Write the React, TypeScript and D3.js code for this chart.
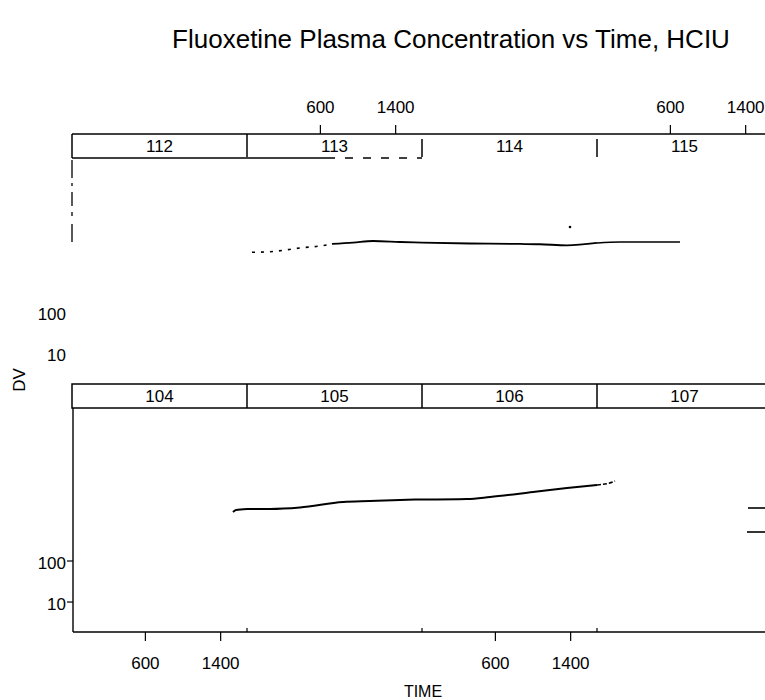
import React from "react";
import * as d3 from "d3";

const title = "Fluoxetine Plasma Concentration vs Time, HCIU";
const xLabel = "TIME";
const yLabel = "DV";
const topPanels = ["112", "113", "114", "115"];
const bottomPanels = ["104", "105", "106", "107"];
const xTicks = [600, 1400];
const yTicks = [10, 100];
const timeDomain = [-180, 1680];
const dvDomain = [1.86, 537000];

// [TIME, DV] per subject panel (bottom row)
const s104: [number, number][] = [[1531, 1570], [1563, 1750], [1680, 1860]];
const s105: [number, number][] = [[-180, 1860], [64, 1860], [383, 2020], [840, 2750], [1127, 2905], [1446, 3080], [1680, 3160]];
const s106: [number, number][] = [[-180, 3160], [298, 3250], [543, 3640], [1000, 4820], [1361, 6030], [1680, 7150]];
const s107: [number, number][] = [[-180, 7150], [-10, 8450], [11, 8930]];
// top row
const s113a: [number, number][] = [[-127, 2705], [64, 2794], [415, 3500], [596, 3846], [723, 4308]];
const s113b: [number, number][] = [[723, 4308], [947, 4635], [1159, 5094], [1446, 4818], [1680, 4635]];
const s114: [number, number][] = [[-180, 4635], [330, 4425], [861, 4308], [1074, 4240], [1361, 4000], [1680, 4560]];
const s115: [number, number][] = [[-180, 4560], [64, 4818], [383, 4818], [702, 4818]];
const point114: [number, number][] = [[1393, 11200]];

const FONT = "'Liberation Sans', Arial, Helvetica, sans-serif";

export default function App() {
  const W = 765, H = 700;
  const left = 72, pw = 175, stripH = 24, ph = 224;
  const topStrip = 134, botStrip = 384;
  const x = d3.scaleLinear().domain(timeDomain).range([0, pw]);
  const yRow = (stripTop: number) =>
    d3.scaleLog().domain(dvDomain).range([stripTop + stripH + ph, stripTop + stripH]);
  const yTop = yRow(topStrip);
  const yBot = yRow(botStrip);
  const px = (i: number) => left + i * pw;

  const path = (data: [number, number][], i: number, y: any) =>
    d3.line<[number, number]>()
      .x((d) => px(i) + x(d[0]))
      .y((d) => y(d[1]))
      .curve(d3.curveMonotoneX)(data) || "";

  const botY = botStrip + stripH + ph; // 632

  return (
    <svg width={W} height={H} style={{ position: "absolute", left: 0, top: 0, background: "#fff" }}
      fontFamily={FONT}>
      <rect x={0} y={0} width={W} height={H} fill="#fff" />
      <text x={451} y={48} textAnchor="middle" fontSize={26}>{title}</text>

      {/* top row strip */}
      <line x1={left} x2={W} y1={topStrip} y2={topStrip} stroke="#000" strokeWidth={1.5} />
      <line x1={left} x2={px(1) + 80} y1={topStrip + stripH} y2={topStrip + stripH} stroke="#000" strokeWidth={1.5} />
      <line x1={px(1) + 80} x2={px(2)} y1={topStrip + stripH} y2={topStrip + stripH} stroke="#000" strokeWidth={1.5} strokeDasharray="8,10" />
      <line x1={left} x2={left} y1={topStrip} y2={topStrip + stripH} stroke="#000" strokeWidth={1.5} />
      {[1, 2, 3].map((i) => (
        <line key={i} x1={px(i)} x2={px(i)} y1={i === 1 ? topStrip : topStrip + 5} y2={topStrip + stripH - 1} stroke="#000" strokeWidth={1.5} />
      ))}
      {topPanels.map((p, i) => (
        <text key={p} x={px(i) + pw / 2} y={topStrip + 18} textAnchor="middle" fontSize={17}>{p}</text>
      ))}
      {/* top axis ticks on panels 113 and 115 */}
      {[1, 3].map((i) =>
        xTicks.map((t) => (
          <g key={i + "-" + t}>
            <line x1={px(i) + x(t)} x2={px(i) + x(t)} y1={topStrip - 9} y2={topStrip} stroke="#000" strokeWidth={1.2} />
            <text x={px(i) + x(t)} y={topStrip - 21} textAnchor="middle" fontSize={17}>{t}</text>
          </g>
        ))
      )}
      {/* top row left axis (faded) */}
      <line x1={left} x2={left} y1={topStrip + stripH + 2} y2={topStrip + stripH + 88} stroke="#000" strokeWidth={1.3} strokeDasharray="18,5,3,6,14,6,4,8" />
      {yTicks.map((t) => (
        <text key={t} x={66} y={yTop(t) + 9} textAnchor="end" fontSize={17}>{t}</text>
      ))}
      {/* top row curves */}
      <path d={path(s113a, 1, yTop)} fill="none" stroke="#000" strokeWidth={1.6} strokeDasharray="3,6" />
      <path d={path(s113b, 1, yTop)} fill="none" stroke="#000" strokeWidth={1.8} />
      <path d={path(s114, 2, yTop)} fill="none" stroke="#000" strokeWidth={1.8} />
      <path d={path(s115, 3, yTop)} fill="none" stroke="#000" strokeWidth={1.6} />
      {point114.map((d, k) => (
        <circle key={k} cx={px(2) + x(d[0])} cy={yTop(d[1])} r={1.3} fill="#000" />
      ))}

      {/* bottom row strip */}
      <rect x={left} y={botStrip} width={W - left + 2} height={stripH} fill="none" stroke="#000" strokeWidth={1.5} />
      {[1, 2, 3].map((i) => (
        <line key={i} x1={px(i)} x2={px(i)} y1={botStrip} y2={botStrip + stripH} stroke="#000" strokeWidth={1.5} />
      ))}
      {bottomPanels.map((p, i) => (
        <text key={p} x={px(i) + pw / 2} y={botStrip + 18} textAnchor="middle" fontSize={17}>{p}</text>
      ))}
      {/* bottom row axes */}
      <line x1={left + 1} x2={left + 1} y1={botStrip + stripH} y2={botY} stroke="#000" strokeWidth={1.4} />
      <line x1={left + 1} x2={W} y1={botY} y2={botY} stroke="#000" strokeWidth={1.5} />
      {[1, 2, 3].map((i) => (
        <line key={i} x1={px(i)} x2={px(i)} y1={botY - 4} y2={botY} stroke="#000" strokeWidth={1.2} />
      ))}
      {yTicks.map((t) => (
        <g key={t}>
          <line x1={left - 5} x2={left + 1} y1={yBot(t)} y2={yBot(t)} stroke="#000" strokeWidth={1.2} />
          <text x={66} y={yBot(t) + 8} textAnchor="end" fontSize={17}>{t}</text>
        </g>
      ))}
      {[0, 2].map((i) =>
        xTicks.map((t) => (
          <g key={i + "-" + t}>
            <line x1={px(i) + x(t)} x2={px(i) + x(t)} y1={botY} y2={botY + 9} stroke="#000" strokeWidth={1.2} />
            <text x={px(i) + x(t)} y={botY + 37} textAnchor="middle" fontSize={17}>{t}</text>
          </g>
        ))
      )}
      {/* bottom row curves */}
      <path d={path(s104, 0, yBot)} fill="none" stroke="#000" strokeWidth={2} />
      <path d={path(s105, 1, yBot)} fill="none" stroke="#000" strokeWidth={2} />
      <path d={path(s106, 2, yBot)} fill="none" stroke="#000" strokeWidth={2} />
      <path d={path(s107, 3, yBot)} fill="none" stroke="#000" strokeWidth={1.6} strokeDasharray="4,2" />

      {/* legend stubs at right edge */}
      <line x1={748} x2={W} y1={508} y2={508} stroke="#000" strokeWidth={1.6} />
      <line x1={747} x2={W} y1={532} y2={532} stroke="#000" strokeWidth={1.6} />

      <text x={423} y={697} textAnchor="middle" fontSize={16}>{xLabel}</text>
      <text transform="translate(25,380) rotate(-90)" textAnchor="middle" fontSize={17}>{yLabel}</text>
    </svg>
  );
}
